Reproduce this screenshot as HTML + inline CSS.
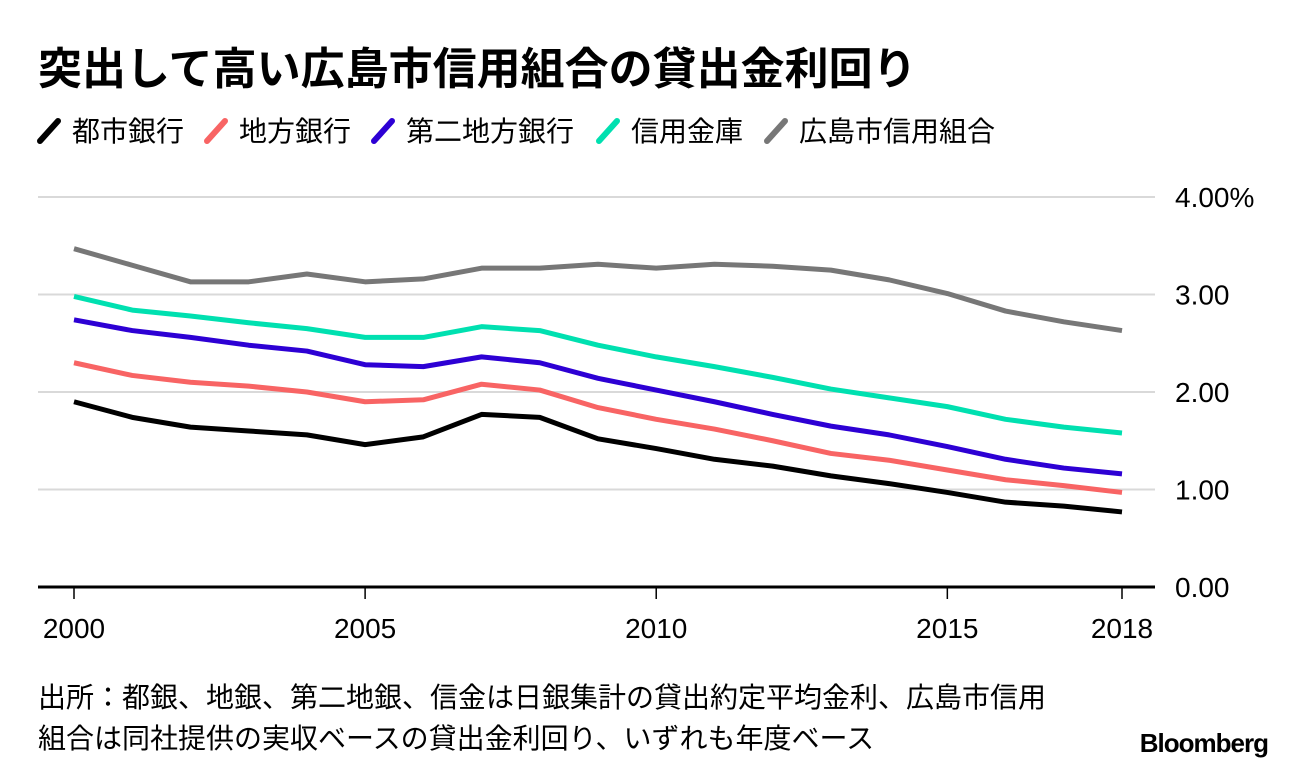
<!DOCTYPE html>
<html><head><meta charset="utf-8"><style>
body{margin:0;background:#fff;width:1296px;height:772px;overflow:hidden;font-family:"Liberation Sans","Noto Sans CJK JP",sans-serif;}
svg text{font-family:"Liberation Sans","Noto Sans CJK JP",sans-serif;}
</style></head><body>
<svg id="c" width="1296" height="772">
<text x="38" y="84" font-size="44" font-weight="bold" fill="#000">突出して高い広島市信用組合の貸出金利回り</text>
<g id="legend"></g>
<g id="grid"></g>
<g id="lines"></g>
<g id="axis"></g>
<text x="38" y="707" font-size="28" fill="#000">出所：都銀、地銀、第二地銀、信金は日銀集計の貸出約定平均金利、広島市信用</text>
<text x="38" y="748" font-size="28" fill="#000">組合は同社提供の実収ベースの貸出金利回り、いずれも年度ベース</text>
<text x="1268" y="752" font-size="26" font-weight="bold" text-anchor="end" fill="#000" letter-spacing="-1">Bloomberg</text>
</svg>
<script>
const years=[2000,2001,2002,2003,2004,2005,2006,2007,2008,2009,2010,2011,2012,2013,2014,2015,2016,2017,2018];
const seriesNames=["都市銀行","地方銀行","第二地方銀行","信用金庫","広島市信用組合"];
const cityBanks=[1.90,1.74,1.64,1.60,1.56,1.46,1.54,1.77,1.74,1.52,1.42,1.31,1.24,1.14,1.06,0.97,0.87,0.83,0.77];
const regionalBanks=[2.30,2.17,2.10,2.06,2.00,1.90,1.92,2.08,2.02,1.84,1.72,1.62,1.50,1.37,1.30,1.20,1.10,1.04,0.97];
const secondRegional=[2.74,2.63,2.56,2.48,2.42,2.28,2.26,2.36,2.30,2.14,2.02,1.90,1.77,1.65,1.56,1.44,1.31,1.22,1.16];
const shinkin=[2.98,2.84,2.78,2.71,2.65,2.56,2.56,2.67,2.63,2.48,2.36,2.26,2.15,2.03,1.94,1.85,1.72,1.64,1.58];
const hiroshima=[3.47,3.30,3.13,3.13,3.21,3.13,3.16,3.27,3.27,3.31,3.27,3.31,3.29,3.25,3.15,3.01,2.83,2.72,2.63];
const yTicks=[0,1,2,3,4];
const yTickLabels=["0.00","1.00","2.00","3.00","4.00%"];
const xTicks=[2000,2005,2010,2015,2018];
const colors=["#000000","#f86464","#2d00d4","#00e0b0","#777777"];
const NS="http://www.w3.org/2000/svg";
const xs=y=>74+(y-2000)*(1122-74)/18;
const ys=v=>587-v*97.5;
function mk(t,a,p){const e=document.createElementNS(NS,t);for(const k in a)e.setAttribute(k,a[k]);p.appendChild(e);return e;}
const grid=document.getElementById('grid');
yTicks.forEach((v,i)=>{
 if(v>0){const l=mk('line',{x1:38,x2:1155,y1:ys(v),y2:ys(v),stroke:'#d9d9d9','stroke-width':2},grid);
 
 }
 const t=mk('text',{x:1175,y:ys(v)+10,'font-size':28,fill:'#000'},grid);t.textContent=yTickLabels[i];
 
 
});
const ax=document.getElementById('axis');
const base=mk('line',{x1:38,x2:1155,y1:587,y2:587,stroke:'#000','stroke-width':3},ax);


xTicks.forEach(y=>{
 const tk=mk('line',{x1:xs(y),x2:xs(y),y1:587,y2:599,stroke:'#000','stroke-width':1.5},ax);
 
 
 const t=mk('text',{x:xs(y),y:638,'font-size':28,'text-anchor':'middle',fill:'#000'},ax);t.textContent=y;
 
 
});
const data=[cityBanks,regionalBanks,secondRegional,shinkin,hiroshima];
const lg=document.getElementById('lines');
[4,3,2,1,0].forEach(i=>{
 const p=mk('polyline',{points:data[i].map((v,j)=>xs(years[j])+','+ys(v)).join(' '),fill:'none',stroke:colors[i],'stroke-width':5,'stroke-linejoin':'round'},lg);
 
 
});
const leg=document.getElementById('legend');
const lx=[38,205,372,597,765];
seriesNames.forEach((n,i)=>{
 const m=mk('line',{x1:lx[i]+2,y1:141,x2:lx[i]+20,y2:121,stroke:colors[i],'stroke-width':6,'stroke-linecap':'round'},leg);
 
 
 const t=mk('text',{x:lx[i]+34,y:141,'font-size':28,fill:'#000'},leg);t.textContent=n;
 
 
});
</script>
</body></html>
